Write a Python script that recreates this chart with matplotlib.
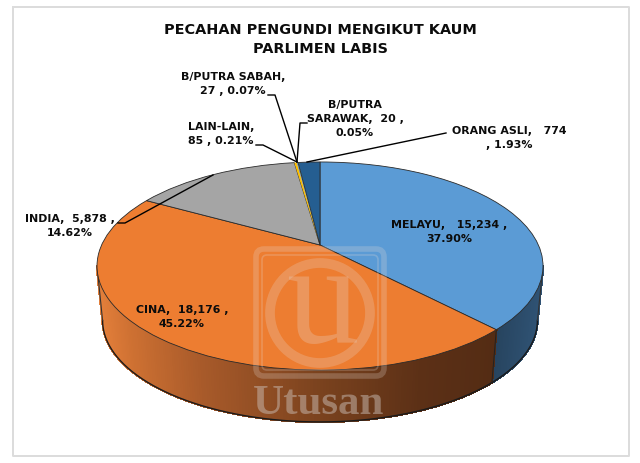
import numpy as np
import matplotlib
matplotlib.use("Agg")
import matplotlib.pyplot as plt
from matplotlib.transforms import Transform
from matplotlib.patches import FancyBboxPatch, Circle
from matplotlib.collections import PolyCollection

categories = ["MELAYU", "CINA", "INDIA", "LAIN-LAIN", "B/PUTRA SABAH", "B/PUTRA SARAWAK", "ORANG ASLI"]
voters = [15234, 18176, 5878, 85, 27, 20, 774]
colors = ["#5B9BD5", "#ED7D31", "#A5A5A5", "#FFC000", "#4472C4", "#70AD47", "#255E91"]
title_lines = ["PECAHAN PENGUNDI MENGIKUT KAUM", "PARLIMEN LABIS"]

FONT = "DejaVu Sans"
K, A, C = 0.202, 99.8, 218.4

def project(xy, cy=245.0, s=1.0):
    u, v = xy[:, 0], xy[:, 1]
    w = 1 + K * v
    return np.column_stack([320 + s * C * u / w, cy - s * A * v / w])

class Perspective(Transform):
    input_dims = output_dims = 2
    is_affine = False
    def transform_non_affine(self, values):
        return project(np.asarray(values, float))
    def inverted(self):
        raise NotImplementedError

fig = plt.figure(figsize=(6.4, 4.63), dpi=100, facecolor="white")
ax = fig.add_axes([0, 0, 1, 1])

# side wall: only the part of the rim that faces the viewer
vals = np.array(voters, float)
edges = np.concatenate([[0], np.cumsum(vals) / vals.sum()]) * 2 * np.pi
ang0, ang1 = np.arccos(-K), 2 * np.pi - np.arccos(-K)
wall_stops_x = [98, 130, 200, 320, 420, 494]
wall_r = [226, 205, 168, 122, 92, 84]
wall_g = [126, 112, 90, 66, 48, 44]
wall_b = [58, 50, 42, 30, 22, 20]
polys, fc = [], []
th = np.linspace(ang0, ang1, 240)
for a0, a1 in zip(th[:-1], th[1:]):
    t = np.array([a0, a1])
    rim = np.column_stack([np.sin(t), np.cos(t)])
    top = project(rim)
    bot = project(rim, cy=300.0, s=0.975)
    polys.append(np.vstack([top, bot[::-1]]))
    xm = top[:, 0].mean()
    if a1 <= edges[1]:
        f = np.interp(xm, [490, 544], [0, 1])
        fc.append(tuple(np.array([38, 66, 92]) * (1 - f) / 255 + np.array([48, 84, 118]) * f / 255))
    else:
        fc.append((np.interp(xm, wall_stops_x, wall_r) / 255,
                   np.interp(xm, wall_stops_x, wall_g) / 255,
                   np.interp(xm, wall_stops_x, wall_b) / 255))
ax.add_collection(PolyCollection(polys, facecolors=fc, edgecolors=fc, linewidths=1.0,
                                 antialiaseds=False, zorder=1))

t = np.linspace(ang0, ang1, 300)
rim = np.column_stack([np.sin(t), np.cos(t)])
ax.plot(*project(rim, cy=300.0, s=0.975).T, color="#1a1a1a", lw=1.0, zorder=2)
for a in (ang0, ang1):
    r = np.array([[np.sin(a), np.cos(a)]])
    seg = np.vstack([project(r), project(r, cy=300.0, s=0.975)])
    ax.plot(seg[:, 0], seg[:, 1], color="#333333", lw=0.8, zorder=2)
r = np.array([[np.sin(edges[1]), np.cos(edges[1])]])
seg = np.vstack([project(r), project(r, cy=300.0, s=0.975)])
ax.plot(seg[:, 0], seg[:, 1], color="#222222", lw=0.7, zorder=2)

# top face
wedges, _ = ax.pie(voters, colors=colors, startangle=90, counterclock=False, radius=1.0,
                   wedgeprops=dict(edgecolor="#2a2a2a", linewidth=0.6))
proj = Perspective()
for i, w in enumerate(wedges):
    w.set_transform(proj + ax.transData)
    w.set_zorder(3)
    if 3 <= i <= 5:
        w.set_linewidth(0)
ax.set_xlim(0, 640)
ax.set_ylim(463, 0)
ax.set_aspect("auto")
ax.axis("off")

# frame
ax.plot([13, 13, 629, 629, 13], [7, 455.5, 455.5, 7, 7], color="#dcdcdc", lw=1.4, zorder=0)

# leader lines
leaders = [
    ([268, 275, 297], [95, 95, 162]),
    ([256, 263, 297], [145, 145, 162]),
    ([307, 300, 297], [123, 123, 162]),
    ([446, 307], [133, 162]),
    ([118, 125, 213], [223, 223, 175]),
]
for xs, ys in leaders:
    ax.plot(xs, ys, color="black", lw=1.0, zorder=5)

# labels
labels = [
    (233, 84, "B/PUTRA SABAH,\n27 , 0.07%"),
    (221, 134, "LAIN-LAIN,\n85 , 0.21%"),
    (355, 119, "B/PUTRA\nSARAWAK,  20 ,\n0.05%"),
    (509, 138, "ORANG ASLI,   774\n, 1.93%"),
    (449, 232, "MELAYU,   15,234 ,\n37.90%"),
    (182, 317, "CINA,  18,176 ,\n45.22%"),
    (70, 226, "INDIA,  5,878 ,\n14.62%"),
]
for x, y, s in labels:
    ax.text(x, y, s, ha="center", va="center", fontsize=7.9, fontweight="bold",
            family=FONT, color="#0c0c0c", linespacing=1.5, zorder=6)
ax.text(320, 39.5, "\n".join(title_lines), ha="center", va="center", fontsize=10.4,
        fontweight="bold", family=FONT, color="#0c0c0c", linespacing=1.5, zorder=6)

# watermark
wm = dict(facecolor="none", edgecolor="#e6dcd6", alpha=0.24, zorder=4)
ax.add_patch(FancyBboxPatch((256, 249), 128, 127, boxstyle="round,pad=0,rounding_size=8", lw=4, **wm))
ax.add_patch(FancyBboxPatch((262, 255), 116, 115, boxstyle="round,pad=0,rounding_size=5", lw=1.2, **wm))
ax.add_patch(Circle((320, 313), 50, lw=7, **wm))
ax.text(322, 309, "u", ha="center", va="center", fontsize=104, family="Liberation Serif",
        color="#e6dcd6", alpha=0.27, zorder=4)
ax.text(319, 404, "Utusan", ha="center", va="center", fontsize=31, family="Liberation Serif",
        fontweight="bold", color="#c9bcb4", alpha=0.5, zorder=4)

fig.savefig("out.png", dpi=100)
